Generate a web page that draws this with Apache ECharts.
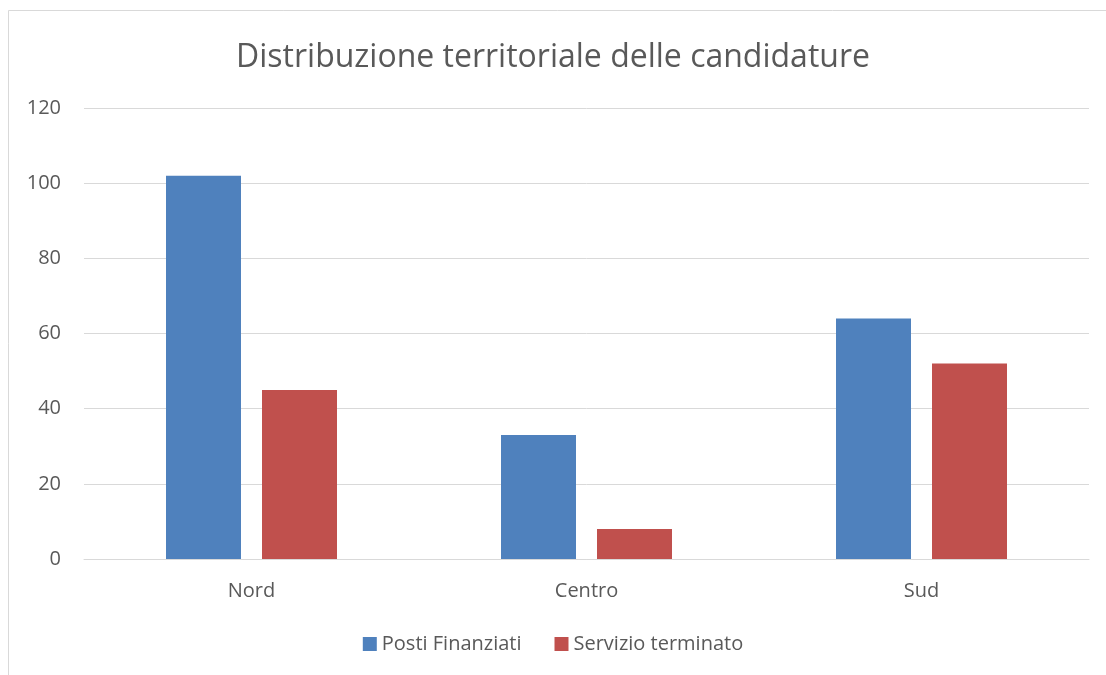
<!DOCTYPE html>
<html><head><meta charset="utf-8">
<script src="https://cdn.jsdelivr.net/npm/echarts@6/dist/echarts.min.js"></script>
<style>html,body{margin:0;padding:0;background:#fff}#c{width:1106px;height:675px}</style>
</head><body><div id="c"></div>
<script>
const categories = ['Nord', 'Centro', 'Sud'];
const postiFinanziati = [102, 33, 64];
const servizioTerminato = [45, 8, 52];
const seriesNames = ['Posti Finanziati', 'Servizio terminato'];
const FONT = 'Open Sans';
const chart = echarts.init(document.getElementById('c'));
chart.setOption({
  animation: false,
  backgroundColor: '#fff',
  graphic: [{type: 'rect', shape: {x: 8.5, y: 10.5, width: 1110, height: 680}, style: {fill: 'none', stroke: '#d9d9d9', lineWidth: 1}, silent: true}],
  title: {text: 'Distribuzione territoriale delle candidature', left: 'center', top: 37,
    textStyle: {fontFamily: FONT, fontSize: 32, fontWeight: 'normal', color: '#595959'}},
  legend: {bottom: 16, left: 'center', itemWidth: 14, itemHeight: 14, itemGap: 33, icon: 'rect',
    textStyle: {fontFamily: FONT, fontSize: 20, color: '#595959'}, data: seriesNames},
  grid: {left: 84, right: 17, top: 108, bottom: 116, containLabel: false},
  xAxis: {type: 'category', data: categories,
    axisLine: {lineStyle: {color: '#d9d9d9'}}, axisTick: {show: false},
    axisLabel: {fontFamily: FONT, fontSize: 20, color: '#595959', margin: 22}},
  yAxis: {type: 'value', min: 0, max: 120, interval: 20,
    axisLine: {show: false}, axisTick: {show: false},
    splitLine: {lineStyle: {color: '#d9d9d9', width: 1}},
    axisLabel: {fontFamily: FONT, fontSize: 20, color: '#595959', margin: 23}},
  series: [
    {name: seriesNames[0], type: 'bar', data: postiFinanziati, barWidth: 75, barGap: '28%', itemStyle: {color: '#4F81BD'}},
    {name: seriesNames[1], type: 'bar', data: servizioTerminato, barWidth: 75, barGap: '28%', itemStyle: {color: '#C0504D'}}
  ]
});
</script></body></html>
